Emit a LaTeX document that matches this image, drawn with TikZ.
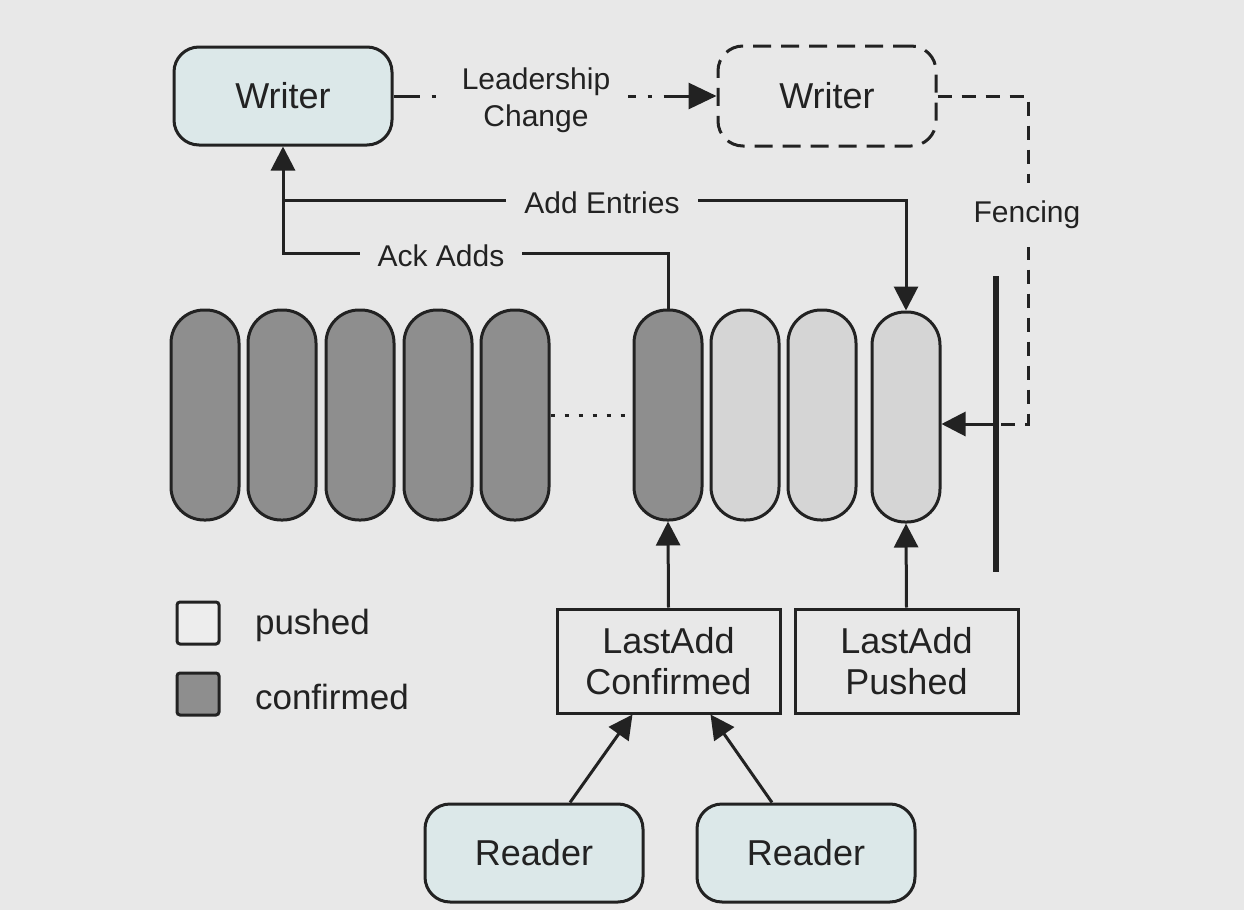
\documentclass[tikz,border=0pt]{standalone}
\usepackage{fontspec}
\setmainfont{Liberation Sans}
\usetikzlibrary{arrows.meta,calc}
\definecolor{bg}{HTML}{E8E8E8}
\definecolor{writerfill}{HTML}{DCE8E9}
\definecolor{darkpill}{HTML}{8E8E8E}
\definecolor{lightpill}{HTML}{D5D5D5}
\definecolor{ink}{HTML}{222222}
\definecolor{pushfill}{HTML}{EDEDED}
\begin{document}
\begin{tikzpicture}[x=0.5pt,y=-0.5pt,
  every node/.style={text=ink},
  actor/.style={draw=ink, line width=1.5pt, fill=writerfill, rounded corners=12.5pt,
    minimum width=109pt, minimum height=49pt, font=\fontsize{18}{21}\selectfont},
  ghost/.style={draw=ink, line width=1.5pt, dash pattern=on 9pt off 5pt, rounded corners=12.5pt,
    minimum width=109pt, minimum height=50pt, font=\fontsize{18}{21}\selectfont},
  pill/.style={draw=ink, line width=1.5pt, rounded corners=16.5pt, minimum width=34pt,
    minimum height=105pt, inner sep=0pt},
  darkp/.style={pill, fill=darkpill},
  lightp/.style={pill, fill=lightpill},
  valbox/.style={draw=ink, line width=1.5pt, minimum width=111.5pt, minimum height=52pt,
    align=center, inner sep=0pt, font=\fontsize{18}{20.5}\selectfont},
  lbl/.style={fill=bg, align=center, inner xsep=9pt, inner ysep=4pt, font=\fontsize{15}{18.5}\selectfont},
  arr/.style={draw=ink, line width=1.5pt, -{Triangle[length=12pt,width=12pt]}},
  legbox/.style={draw=ink, line width=1.5pt, rounded corners=1.5pt, minimum width=21pt,
    minimum height=21pt, inner sep=0pt},
  legtxt/.style={anchor=west, font=\fontsize{17.5}{20}\selectfont}
]
\path[fill=bg] (0,0) rectangle (1244,910);

% writers
\node[actor] (w1) at (283,96) {Writer};
\node[ghost] (w2) at (827,96) {Writer};

% ledger entries
\node[darkp] (p1) at (205,415) {};
\node[darkp] (p2) at (282,415) {};
\node[darkp] (p3) at (360,415) {};
\node[darkp] (p4) at (438,415) {};
\node[darkp] (p5) at (515,415) {};
\node[darkp] (p6) at (668,415) {};
\node[lightp] (p7) at (745,415) {};
\node[lightp] (p8) at (822,415) {};
\node[lightp] (p9) at (906,417) {};
\draw[draw=ink, line width=1.5pt, dash pattern=on 2pt off 5pt] (p5.east) -- (p6.west);

% value boxes
\node[valbox] (lc) at (668.5,661) {LastAdd\\Confirmed};
\node[valbox] (lp) at (906.5,661) {LastAdd\\Pushed};

% readers
\node[actor] (r1) at (534,853) {Reader};
\node[actor] (r2) at (806,853) {Reader};

% leadership change
\draw[arr, -{Triangle[length=14pt,width=13pt]}, dash pattern=on 13pt off 6pt on 2pt off 6pt] (w1.east) -- (w2.west);
\node[lbl] (lead) at (536,100) {Leadership\\Change};

% add entries / ack adds
\coordinate (addc) at (283,200);
\coordinate (ackc) at (283,253);
\draw[arr] (addc) -| (p9.north);
\draw[arr] (p6.north) |- (ackc) -- (w1.south);
\node[lbl] (addl) at (602,203) {Add Entries};
\node[lbl] (ackl) at (441,256) {Ack Adds};

% fencing
\coordinate (fcorner) at (1028,424);
\coordinate (barmid) at (996,424);
\coordinate (bartop) at (996,276);
\coordinate (barbot) at (996,572);
\draw[draw=ink, line width=1.5pt, dash pattern=on 7pt off 5pt] (w2.east) -| (fcorner) -- (barmid);
\node[lbl, inner ysep=9pt] (fence) at (1027,215) {Fencing};
\draw[draw=ink, line width=3pt] (bartop) -- (barbot);
\draw[arr] (barmid) -- (barmid -| p9.east);

% pointers
\draw[arr] (lc.north) -- (p6.south);
\draw[arr] (lp.north) -- (p9.south);
\draw[arr] ([xshift=18pt]r1.north) -- ([xshift=-18pt]lc.south);
\draw[arr] ([xshift=-17pt]r2.north) -- ([xshift=21pt]lc.south);

% legend
\node[legbox, fill=pushfill] (lg1) at (198,623) {};
\node[legbox, fill=darkpill] (lg2) at (198,694) {};
\node[legtxt] (lt1) at (248,625) {pushed};
\node[legtxt] (lt2) at (248,697) {confirmed};
\end{tikzpicture}
\end{document}
